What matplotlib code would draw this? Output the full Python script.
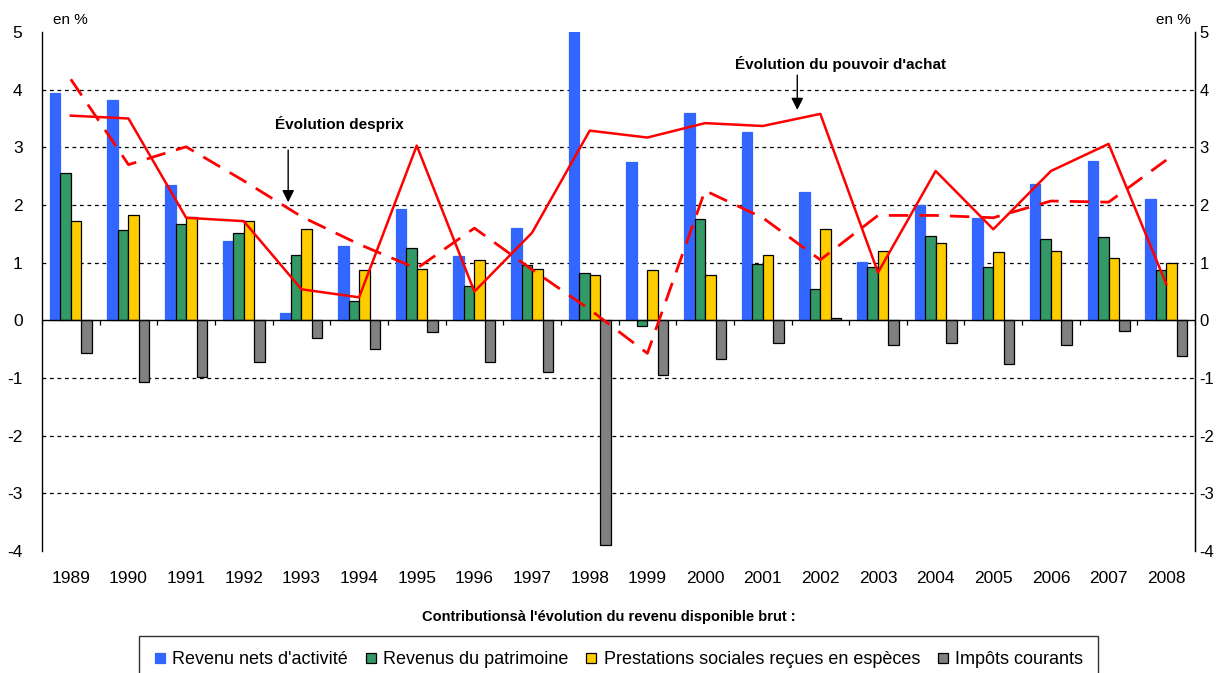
import numpy as np
import matplotlib
matplotlib.use("Agg")
from matplotlib import pyplot as plt

plt.rcParams['font.family'] = ['Liberation Sans', 'DejaVu Sans']
plt.rcParams['axes.unicode_minus'] = False

annees = [str(a) for a in range(1989, 2009)]

# contributions (en points de %)
revenu_activite = [3.94, 3.82, 2.34, 1.37, 0.12, 1.29, 1.94, 1.12, 1.60, 5.00,
                   2.75, 3.59, 3.26, 2.22, 1.01, 2.00, 1.78, 2.37, 2.77, 2.11]
revenu_patrimoine = [2.56, 1.57, 1.67, 1.51, 1.13, 0.34, 1.26, 0.60, 0.96, 0.82,
                     -0.10, 1.75, 0.97, 0.54, 0.93, 1.46, 0.93, 1.41, 1.44, 0.87]
prestations = [1.72, 1.82, 1.80, 1.72, 1.59, 0.87, 0.90, 1.05, 0.90, 0.78,
               0.87, 0.78, 1.13, 1.59, 1.20, 1.35, 1.18, 1.20, 1.08, 1.00]
impots = [-0.56, -1.07, -0.98, -0.72, -0.31, -0.49, -0.20, -0.72, -0.90, -3.90,
          -0.95, -0.67, -0.39, 0.05, -0.43, -0.40, -0.76, -0.43, -0.19, -0.61]

# courbes
pouvoir_achat = [3.55, 3.50, 1.78, 1.72, 0.54, 0.40, 3.03, 0.50, 1.52, 3.29,
                 3.17, 3.42, 3.37, 3.58, 0.83, 2.59, 1.58, 2.59, 3.06, 0.63]
prix = [4.18, 2.70, 3.01, 2.42, 1.80, 1.32, 0.90, 1.60, 0.88, 0.19,
        -0.57, 2.25, 1.78, 1.05, 1.82, 1.82, 1.78, 2.07, 2.05, 2.78]

series = [
    ("Revenu nets d'activité", revenu_activite, '#3366FF', '#3366FF'),
    ("Revenus du patrimoine", revenu_patrimoine, '#339966', 'black'),
    ("Prestations sociales reçues en espèces", prestations, '#FFCC00', 'black'),
    ("Impôts courants", impots, '#808080', 'black'),
]

fig = plt.figure(figsize=(12.17, 6.73), dpi=100)
ax = fig.add_axes([0.0345, 0.181, 0.9475, 0.7715])

x = np.arange(len(annees))
w = 0.182
for k, (nom, vals, fc, ec) in enumerate(series):
    ax.bar(x + (k - 1.5) * w, vals, w, color=fc, edgecolor=ec,
           linewidth=0.9, label=nom, zorder=3)

ax.plot(x, pouvoir_achat, color='#FF0000', lw=1.8, zorder=5)
ax.plot(x, prix, color='#FF0000', lw=2.0, dashes=(7, 4), zorder=5)

ax.set_xlim(-0.5, len(annees) - 0.5)
ax.set_ylim(-4, 5)
ax.set_yticks(range(-4, 6))
ax.yaxis.grid(True, color='black', linestyle=(0, (3, 3)), linewidth=0.9, zorder=1)
for val, gl in zip(range(-4, 6), ax.get_ygridlines()):
    if val in (-4, 0, 5):
        gl.set_visible(False)
ax.set_axisbelow(True)

ax.axhline(0, color='black', lw=1.0, zorder=4)
ax.vlines(np.arange(len(annees) + 1) - 0.5, -0.08, 0, color='black', lw=0.9, zorder=4)

ax.set_xticks(x)
ax.set_xticklabels(annees, fontsize=12.5)
ax.tick_params(axis='x', length=0, pad=14)
ax.tick_params(axis='y', length=0, pad=14, labelsize=12.5)

for s in ['top', 'bottom']:
    ax.spines[s].set_visible(False)
ax.spines['left'].set_linewidth(1.0)
ax.spines['right'].set_linewidth(1.0)

ax2 = ax.twinx()
ax2.set_ylim(ax.get_ylim())
ax2.set_yticks(range(-4, 6))
ax2.tick_params(axis='y', length=0, pad=3, labelsize=12)
for s in ['top', 'bottom', 'left']:
    ax2.spines[s].set_visible(False)

fig.text(70 / 1217, 1 - 20 / 673, "en %", ha='center', va='center', fontsize=11)
fig.text(1173 / 1217, 1 - 20 / 673, "en %", ha='center', va='center', fontsize=11)

ax.annotate("", xy=(3.77, 2.0), xytext=(3.77, 3.0),
            arrowprops=dict(arrowstyle='-|>', color='black', lw=1, mutation_scale=18))
ax.text(4.65, 3.4, "Évolution desprix", ha='center', va='center',
        fontsize=11, fontweight='bold')

ax.annotate("", xy=(12.6, 3.6), xytext=(12.6, 4.3),
            arrowprops=dict(arrowstyle='-|>', color='black', lw=1, mutation_scale=18))
ax.text(13.35, 4.45, "Évolution du pouvoir d'achat", ha='center', va='center',
        fontsize=11, fontweight='bold')

fig.text(0.5, 1 - 617 / 673, "Contributionsà l'évolution du revenu disponible brut :",
         ha='center', va='center', fontsize=10.5, fontweight='bold')

leg = fig.legend(loc='upper center', bbox_to_anchor=(0.5086, 1 - 636 / 673), ncol=4,
                 fontsize=13, frameon=True, fancybox=False, edgecolor='black',
                 handlelength=0.55, handleheight=0.55, handletextpad=0.4,
                 columnspacing=1.0, borderpad=0.85, borderaxespad=0)
leg.get_frame().set_linewidth(1.0)

fig.savefig("out.png", dpi=100)
